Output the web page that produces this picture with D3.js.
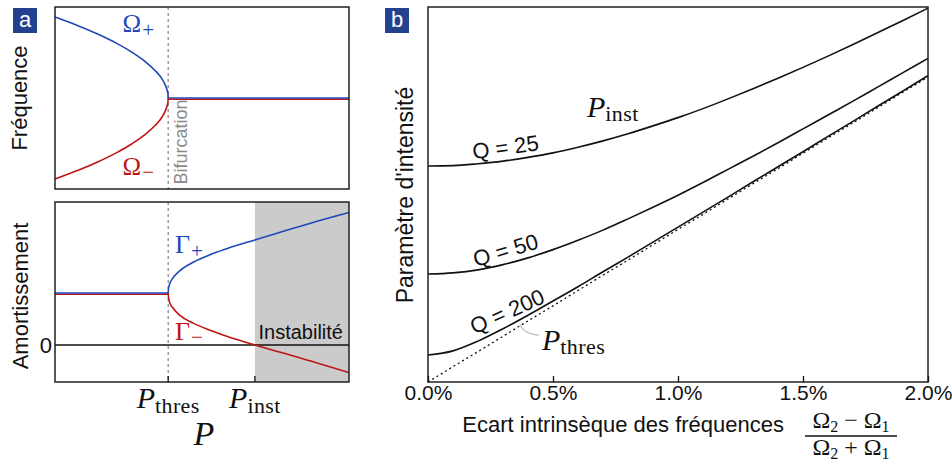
<!DOCTYPE html>
<html><head><meta charset="utf-8">
<script src="https://cdn.jsdelivr.net/npm/d3@7"></script>
<style>
body{margin:0;background:#fff;}
svg{display:block;}
text{font-family:"Liberation Sans",Arial,sans-serif;}
</style></head><body>
<svg id="c" width="952" height="464"></svg>
<script>
// ---------- Panel a (schematic) ----------
const P_THRES = 3.85, P_INST = 6.8, P_MAX = 10;
// upper/lower frequency branches before bifurcation
const omegaBranchP = [0, 0.74, 1.47, 2.10, 2.63, 3.07, 3.41, 3.55, 3.66, 3.74, 3.80, 3.84, 3.85];
const omegaPlus    = [0.89, 0.8, 0.7, 0.6, 0.5, 0.4, 0.3, 0.25, 0.2, 0.15, 0.1, 0.05, 0];
const omegaMinus   = [-0.89, -0.8, -0.7, -0.6, -0.5, -0.4, -0.3, -0.25, -0.2, -0.15, -0.1, -0.05, 0];
const omegaFlatP = [3.85, 10], omegaFlat = [0, 0];
// damping branches after bifurcation
const gammaFlatP = [0, 3.85], gammaFlat = [1, 1];
const gammaBranchP = [3.85, 3.86, 3.90, 4.00, 4.25, 4.70, 5.25, 5.84, 6.80, 7.50, 8.11, 9.00, 10.0];
const gammaPlus    = [1.00, 1.08, 1.17, 1.28, 1.43, 1.59, 1.73, 1.85, 2.02, 2.14, 2.245, 2.395, 2.55];
const gammaMinus   = [1.00, 0.92, 0.82, 0.72, 0.57, 0.42, 0.29, 0.17, 0.00, -0.115, -0.21, -0.36, -0.53];

// ---------- Panel b ----------
const detuning = [0,0.1,0.2,0.3,0.4,0.5,0.6,0.7,0.8,0.9,1.0,1.1,1.2,1.3,1.4,1.5,1.6,1.7,1.8,1.9,2.0];
const pInstQ25  = [57.6,57.7,58.2,58.9,59.9,61.1,62.6,64.3,66.2,68.3,70.5,72.9,75.5,78.2,81.0,83.9,86.9,90.0,93.2,96.4,99.7];
const pInstQ50  = [28.8,29.1,29.9,31.3,33.1,35.3,37.8,40.5,43.5,46.6,49.8,53.2,56.7,60.2,63.8,67.5,71.2,74.9,78.7,82.5,86.3];
const pInstQ200 = [7.2,8.3,10.9,14.2,17.8,21.6,25.4,29.4,33.3,37.3,41.3,45.3,49.3,53.4,57.4,61.4,65.5,69.5,73.6,77.6,81.7];
const pThres    = [0,4.1,8.1,12.2,16.3,20.3,24.4,28.5,32.5,36.6,40.7,44.7,48.8,52.9,56.9,61.0,65.1,69.1,73.2,77.3,81.3];
const xTicks = [0, 0.5, 1.0, 1.5, 2.0];
const qLabels = ["Q = 25", "Q = 50", "Q = 200"];

const BLUE = "#1f47b8", RED = "#bf1414", FRAME = "#222", GRAYDASH = "#8a8a8a";
const svg = d3.select("#c");
const serif = '"Liberation Serif","Times New Roman",serif';

function path(xs, ys, X, Y, curve) {
  return d3.line().x((d, i) => X(xs[i])).y(d => Y(d)).curve(curve || d3.curveLinear)(ys);
}
function badge(x, y, t) {
  svg.append("rect").attr("x", x).attr("y", y).attr("width", 24).attr("height", 25).attr("fill", "#24418f");
  svg.append("text").attr("x", x + 12).attr("y", y + 19).attr("text-anchor", "middle")
    .attr("fill", "#fff").attr("font-size", 22).text(t);
}
function mathLabel(g, x, y, main, sub, opts) {
  const o = Object.assign({size: 30, subSize: 22, italic: true, anchor: "middle", fill: "#111", dy: 5}, opts || {});
  const t = g.append("text").attr("x", x).attr("y", y).attr("text-anchor", o.anchor)
    .style("font-family", serif).attr("fill", o.fill);
  t.append("tspan").attr("font-size", o.size).attr("font-style", o.italic ? "italic" : "normal").text(main);
  if (sub) t.append("tspan").attr("font-size", o.subSize).attr("dy", o.dy).attr("dx", o.italic ? 0 : 1)
    .attr("letter-spacing", o.italic ? 0.4 : 0).text(sub);
  return t;
}

// ===== Panel a scales =====
const xa = d3.scaleLinear().domain([0, P_MAX]).range([55, 349]);
const yTop = d3.scaleLinear().domain([-1, 1]).range([189, 7]);
const yBot = d3.scaleLinear().domain([-0.712, 2.75]).range([382, 202]);
const mono = d3.curveMonotoneX;

// --- top panel ---
const gt = svg.append("g");
gt.append("line").attr("x1", xa(P_THRES)).attr("x2", xa(P_THRES)).attr("y1", 7).attr("y2", 189)
  .attr("stroke", GRAYDASH).attr("stroke-width", 1.3).attr("stroke-dasharray", "3,3");
gt.append("path").attr("d", path(omegaFlatP, omegaFlat, xa, yTop)).attr("transform", "translate(0,1.2)")
  .attr("fill", "none").attr("stroke", RED).attr("stroke-width", 1.6);
gt.append("path").attr("d", path(omegaFlatP, omegaFlat, xa, yTop))
  .attr("fill", "none").attr("stroke", BLUE).attr("stroke-width", 1.6);
gt.append("path").attr("d", path(omegaBranchP, omegaMinus, xa, yTop, mono))
  .attr("fill", "none").attr("stroke", RED).attr("stroke-width", 1.6);
gt.append("path").attr("d", path(omegaBranchP, omegaPlus, xa, yTop, mono))
  .attr("fill", "none").attr("stroke", BLUE).attr("stroke-width", 1.6);
gt.append("rect").attr("x", 55).attr("y", 7).attr("width", 294).attr("height", 182)
  .attr("fill", "none").attr("stroke", FRAME).attr("stroke-width", 1.5);
mathLabel(gt, xa(2.3), yTop(0.72), "Ω", "+", {italic: false, size: 25, subSize: 21, anchor: "start", fill: BLUE, dy: 5});
mathLabel(gt, xa(2.3), yTop(-0.845), "Ω", "−", {italic: false, size: 25, subSize: 21, anchor: "start", fill: RED, dy: 4});
gt.append("text").attr("transform", `translate(${xa(P_THRES) + 19},${yTop(-0.95)}) rotate(-90)`)
  .attr("fill", "#8a8a8a").attr("font-size", 18).text("Bifurcation");
gt.append("text").attr("transform", `translate(27,${yTop(0)}) rotate(-90)`)
  .attr("text-anchor", "middle").attr("font-size", 22).attr("fill", "#111").text("Fréquence");

// --- bottom panel ---
const gb = svg.append("g");
gb.append("rect").attr("x", xa(P_INST)).attr("y", 202).attr("width", xa(P_MAX) - xa(P_INST)).attr("height", 180)
  .attr("fill", "#cbcbcb");
gb.append("line").attr("x1", 55).attr("x2", 349).attr("y1", yBot(0)).attr("y2", yBot(0))
  .attr("stroke", "#111").attr("stroke-width", 1.4);
gb.append("line").attr("x1", xa(P_THRES)).attr("x2", xa(P_THRES)).attr("y1", 202).attr("y2", 382)
  .attr("stroke", GRAYDASH).attr("stroke-width", 1.3).attr("stroke-dasharray", "3,3");
gb.append("path").attr("d", path(gammaFlatP, gammaFlat, xa, yBot)).attr("transform", "translate(0,1.2)")
  .attr("fill", "none").attr("stroke", RED).attr("stroke-width", 1.6);
gb.append("path").attr("d", path(gammaFlatP, gammaFlat, xa, yBot))
  .attr("fill", "none").attr("stroke", BLUE).attr("stroke-width", 1.6);
gb.append("path").attr("d", path(gammaBranchP, gammaMinus, xa, yBot, mono))
  .attr("fill", "none").attr("stroke", RED).attr("stroke-width", 1.6);
gb.append("path").attr("d", path(gammaBranchP, gammaPlus, xa, yBot, mono))
  .attr("fill", "none").attr("stroke", BLUE).attr("stroke-width", 1.6);
gb.append("rect").attr("x", 55).attr("y", 202).attr("width", 294).attr("height", 180)
  .attr("fill", "none").attr("stroke", FRAME).attr("stroke-width", 1.5);
[P_THRES, P_INST].forEach(p => gb.append("line").attr("x1", xa(p)).attr("x2", xa(p))
  .attr("y1", 382).attr("y2", 376).attr("stroke", "#111").attr("stroke-width", 1.3));
mathLabel(gb, xa(4.08), yBot(1.77), "Γ", "+", {italic: false, size: 26, subSize: 21, anchor: "start", fill: BLUE, dy: 5});
mathLabel(gb, xa(4.08), yBot(0.1), "Γ", "−", {italic: false, size: 26, subSize: 21, anchor: "start", fill: RED, dy: 4});
gb.append("text").attr("x", 343).attr("y", yBot(0) - 6).attr("text-anchor", "end")
  .attr("font-size", 20).attr("fill", "#111").text("Instabilité");
gb.append("text").attr("x", 52).attr("y", yBot(0)).attr("dy", "0.36em").attr("text-anchor", "end")
  .attr("font-size", 22).attr("fill", "#111").text("0");
gb.append("text").attr("transform", `translate(28,296) rotate(-90)`)
  .attr("text-anchor", "middle").attr("font-size", 22).attr("fill", "#111").text("Amortissement");
mathLabel(gb, xa(P_THRES), 408, "P", "thres");
mathLabel(gb, xa(P_INST), 408, "P", "inst");
mathLabel(gb, 204, 445, "P", null, {size: 34});

badge(13, 8, "a");

// ===== Panel b =====
const xb = d3.scaleLinear().domain([0, 2]).range([428, 928]);
const yb = d3.scaleLinear().domain([0, 100]).range([382, 7]);
const g2 = svg.append("g");
const series = [pInstQ25, pInstQ50, pInstQ200];
g2.append("path").attr("d", path(detuning, pThres, xb, yb))
  .attr("fill", "none").attr("stroke", "#111").attr("stroke-width", 1.3).attr("stroke-dasharray", "2,3");
series.forEach(s => g2.append("path").attr("d", path(detuning, s, xb, yb, d3.curveMonotoneX))
  .attr("fill", "none").attr("stroke", "#111").attr("stroke-width", 1.6));
g2.append("rect").attr("x", 428).attr("y", 7).attr("width", 500).attr("height", 375)
  .attr("fill", "none").attr("stroke", FRAME).attr("stroke-width", 1.5);
const ax = g2.append("g").attr("transform", "translate(0,382)")
  .call(d3.axisBottom(xb).tickValues(xTicks).tickSize(-6).tickPadding(3).tickFormat(d => d.toFixed(1) + "%"));
ax.select(".domain").remove();
ax.selectAll("line").attr("stroke", "#111").attr("stroke-width", 1.3);
ax.selectAll("text").attr("font-size", 21).attr("fill", "#111").style("font-family", '"Liberation Sans",Arial,sans-serif');

// Q labels
const qPos = [[0.31, 62.7, -8], [0.31, 35.2, -16.5], [0.316, 18.9, -24]];
qLabels.forEach((t, i) => {
  const [x, y, a] = qPos[i];
  g2.append("text").attr("transform", `translate(${xb(x)},${yb(y)}) rotate(${a})`)
    .attr("text-anchor", "middle").attr("dy", "0.36em").attr("font-size", 22).attr("fill", "#111").text(t);
});
mathLabel(g2, xb(0.636), yb(70.7), "P", "inst", {anchor: "start", dy: 4});
mathLabel(g2, xb(0.456), yb(8.5), "P", "thres", {anchor: "start", dy: 4});
g2.append("path").attr("d", `M${xb(0.368)},${yb(15.2)} Q${xb(0.385)},${yb(12.8)} ${xb(0.444)},${yb(12.5)}`)
  .attr("fill", "none").attr("stroke", "#bdbdbd").attr("stroke-width", 1.3);

g2.append("text").attr("transform", "translate(413,195) rotate(-90)")
  .attr("text-anchor", "middle").attr("font-size", 23).attr("fill", "#111").text("Paramètre d'intensité");
g2.append("text").attr("x", 784).attr("y", 432).attr("text-anchor", "end")
  .attr("font-size", 22).attr("fill", "#111").text("Ecart intrinsèque des fréquences");

// fraction
const fx = 851;
function fracLine(y, op) {
  const t = g2.append("text").attr("x", fx).attr("y", y).attr("text-anchor", "middle")
    .style("font-family", serif).attr("fill", "#111").attr("font-size", 24);
  t.append("tspan").text("Ω");
  t.append("tspan").attr("font-size", 16).attr("dy", 4).text("2");
  t.append("tspan").attr("dy", -4).attr("dx", 6).text(op);
  t.append("tspan").attr("dx", 6).text("Ω");
  t.append("tspan").attr("font-size", 16).attr("dy", 4).text("1");
}
fracLine(428, "−");
g2.append("line").attr("x1", 805).attr("x2", 897).attr("y1", 436).attr("y2", 436)
  .attr("stroke", "#111").attr("stroke-width", 1.3);
fracLine(455, "+");

badge(385, 8, "b");
</script>
</body></html>
